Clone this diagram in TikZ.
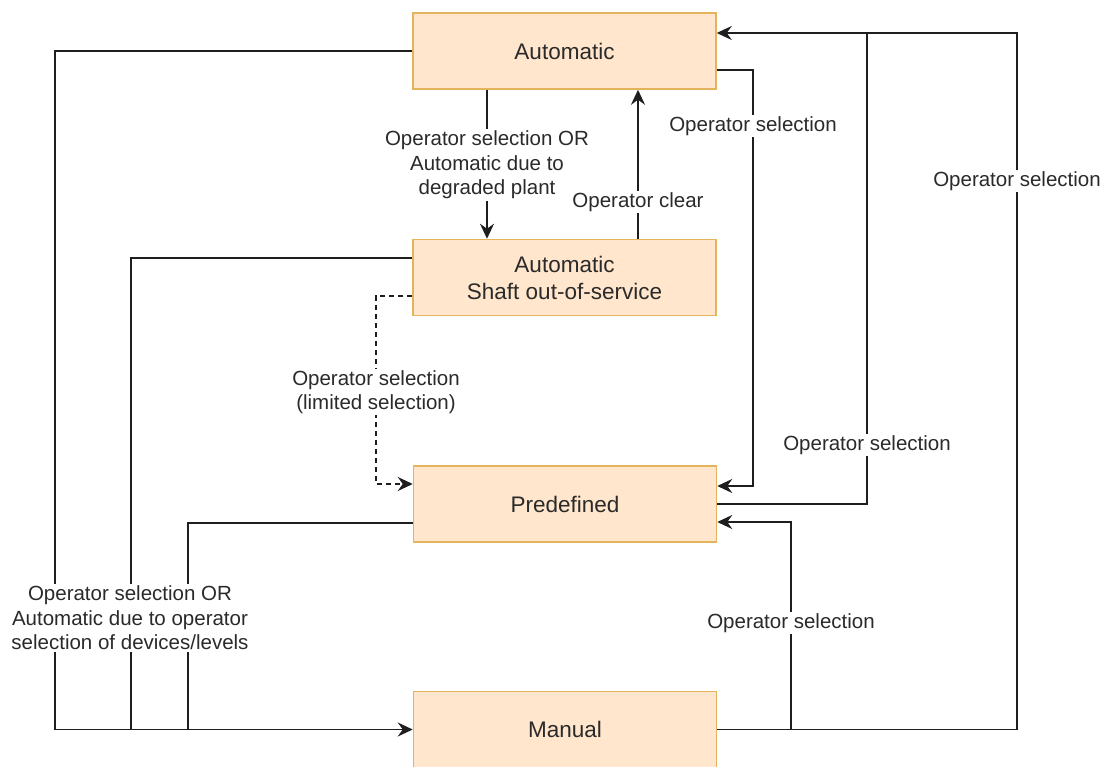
\documentclass[tikz,border=0pt]{standalone}
\usepackage{fontspec}
\setmainfont{Liberation Sans}
\usetikzlibrary{arrows.meta,calc}
\definecolor{boxfill}{HTML}{FFE6CC}
\definecolor{boxline}{HTML}{E3B45C}
\definecolor{txt}{HTML}{2A2A2A}
\definecolor{wire}{HTML}{1E1E1E}
\begin{document}
\begin{tikzpicture}[x=1pt,y=-1pt,
  state/.style={draw=boxline,fill=boxfill,line width=1.5pt,minimum width=303pt,minimum height=76pt,inner sep=0pt,align=center,text=txt,font=\fontsize{22.5}{27}\selectfont},
  wirestyle/.style={draw=wire,line width=1.7pt},
  arr/.style={wirestyle,-{Stealth[length=15pt,width=14pt,inset=5pt]}},
  lab/.style={fill=white,inner sep=1.5pt,align=center,text=txt,font=\fontsize{20.5}{24.5}\selectfont}]
\useasboundingbox (0,0) rectangle (1105,767);
\node[state] (auto) at (564.5,51) {Automatic};
\node[state] (shaft) at (564.5,277.5) {Automatic\\Shaft out-of-service};
\node[state] (pre) at (565,504) {Predefined};
\node[state] (man) at (565,729.5) {Manual};
% left side
\draw[arr] (auto.west) -| (55,729.5) -- (man.west);
\draw[wirestyle] ([yshift=19.5pt]shaft.west) -| (131,729.5);
\draw[wirestyle] ([yshift=-19pt]pre.west) -| (188,729.5);
% dashed
\draw[arr,dashed,dash pattern=on 5pt off 4pt] ([yshift=-18.5pt]shaft.west) -| (376,484) -- ([yshift=20pt]pre.west);
% vertical between auto and shaft
\draw[arr] ([xshift=-77.5pt]auto.south) -- ([xshift=-77.5pt]shaft.north);
\draw[arr] ([xshift=73.5pt]shaft.north) -- ([xshift=73.5pt]auto.south);
% right side
\draw[arr] ([yshift=-19pt]auto.east) -| (753,486) -- ([yshift=18pt]pre.east);
\draw[wirestyle] (pre.east) -| (867,33);
\draw[arr] (man.east) -| (1017,33) -- ([yshift=18pt]auto.east);
\draw[arr] (791,729.5) |- ([yshift=-18pt]pre.east);
% labels
\node[lab] (l1) at (487,165) {Operator selection OR\\Automatic due to\\degraded plant};
\node[lab] (l2) at (638,202) {Operator clear};
\node[lab] (l3) at (753,126) {Operator selection};
\node[lab] (l4) at (376,392) {Operator selection\\(limited selection)};
\node[lab] (l5) at (867,445) {Operator selection};
\node[lab] (l6) at (1017,181) {Operator selection};
\node[lab] (l7) at (791,623) {Operator selection};
\node[lab] (l8) at (130,618) {Operator selection OR\\Automatic due to operator\\selection of devices/levels};
\end{tikzpicture}
\end{document}
